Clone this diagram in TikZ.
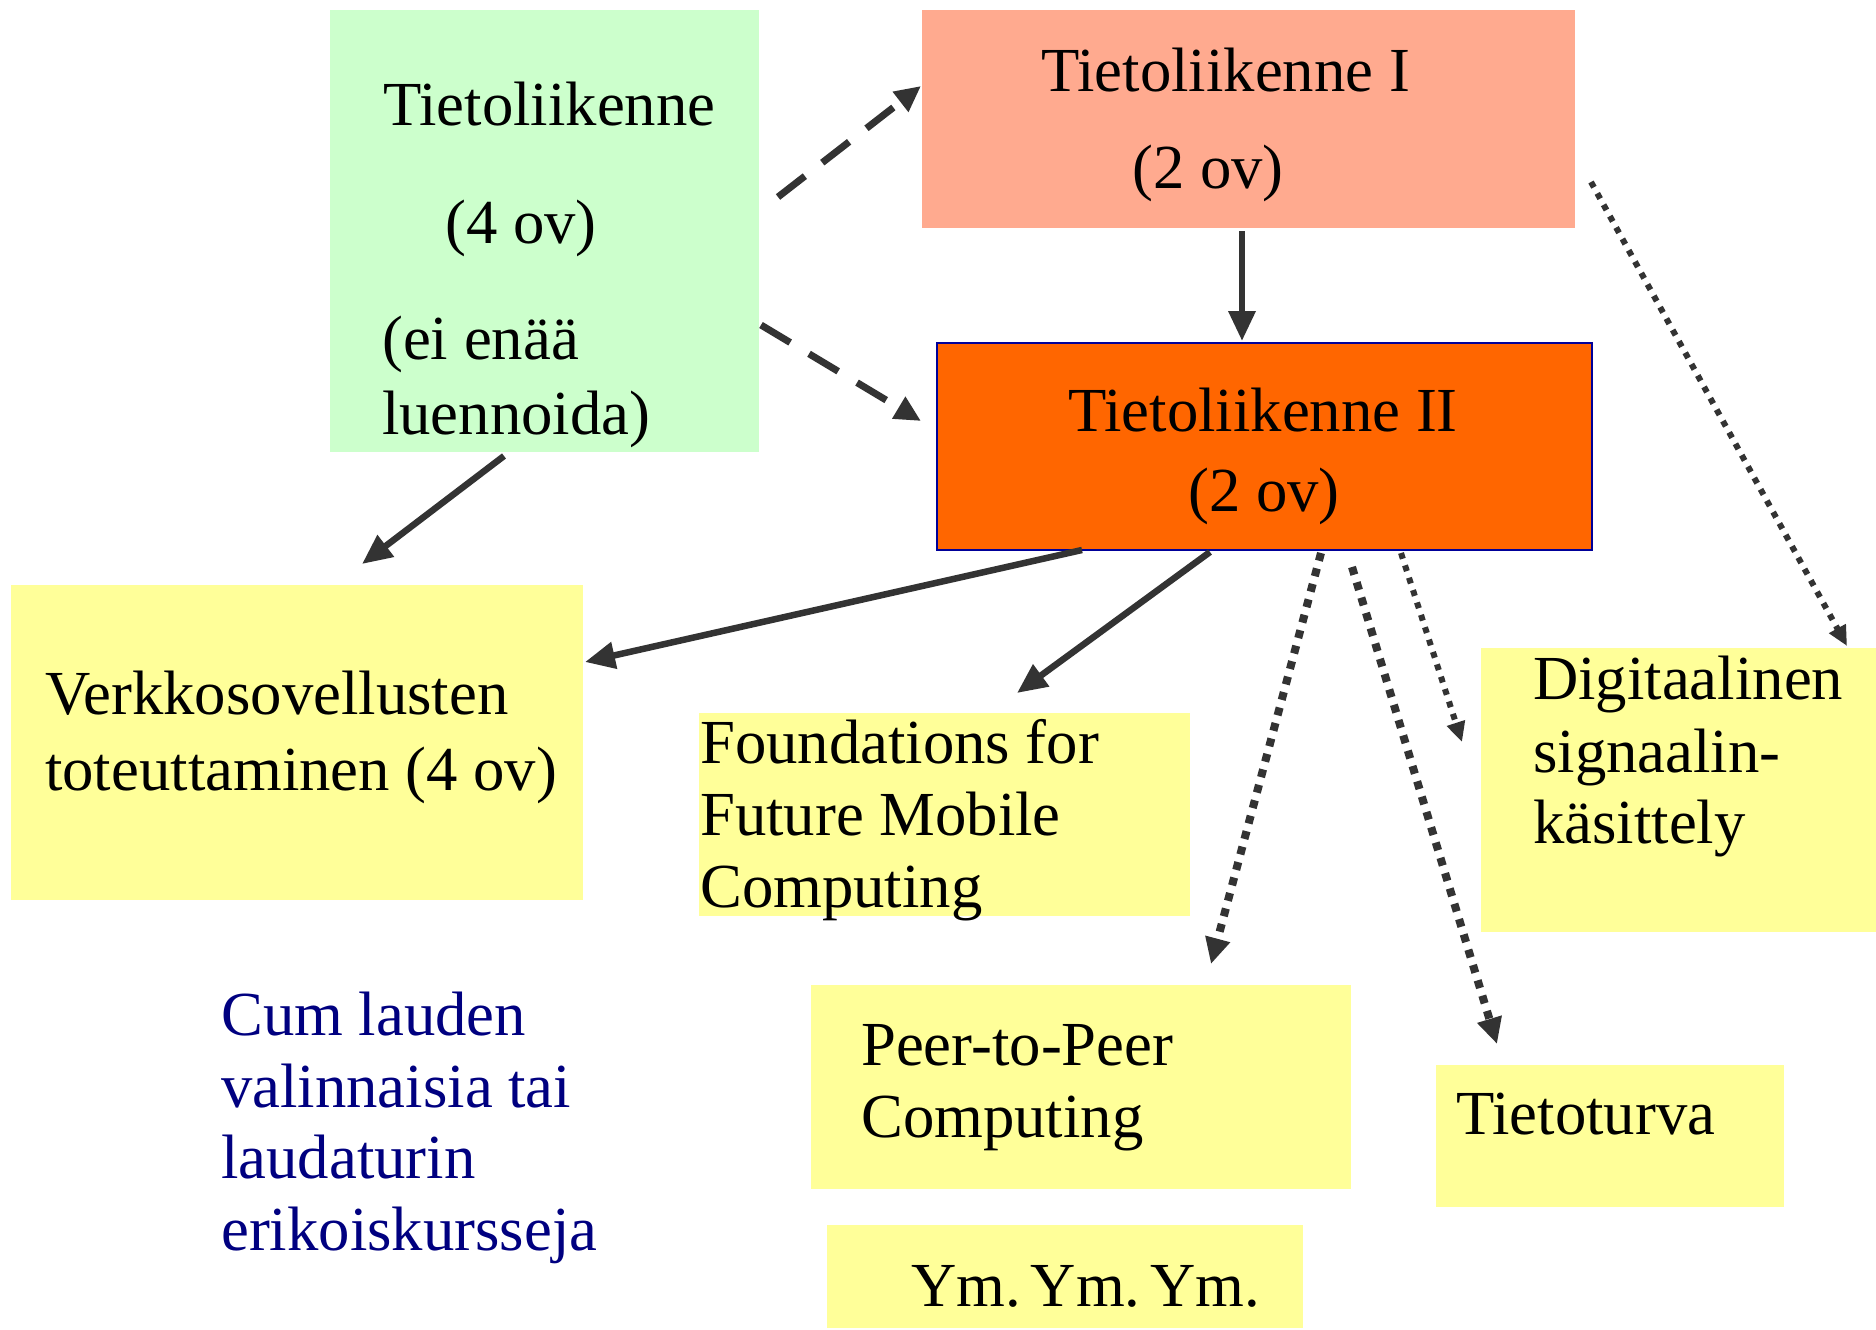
\documentclass[tikz,border=0pt]{standalone}
\usepackage{fontspec}
\setmainfont{Liberation Serif}
\usetikzlibrary{arrows.meta}
\definecolor{gbox}{HTML}{CCFFCC}
\definecolor{sbox}{HTML}{FFAA8F}
\definecolor{obox}{HTML}{FF6600}
\definecolor{ybox}{HTML}{FFFF99}
\definecolor{navyb}{HTML}{000099}
\definecolor{cumc}{HTML}{000080}
\definecolor{arr}{HTML}{333333}
\newcommand\bigfnt{\fontsize{62.7}{72}\selectfont}
\begin{document}
\begin{tikzpicture}[x=1pt,y=-1pt,
  box/.style={draw=none,anchor=north west,inner sep=0,outer sep=0},
  txt/.style={anchor=base west,inner sep=0,font=\bigfnt},
  solidarr/.style={draw=arr,line width=6.5pt,-{Triangle[length=30pt,width=26pt]}},
  dasharr/.style={draw=arr,line width=7pt,dash pattern=on 34pt off 22pt,-{Triangle[length=26pt,width=24pt]}},
  heavydot/.style={draw=arr,line width=8pt,dash pattern=on 8pt off 8pt,-{Triangle[length=26pt,width=24pt]}},
  thindot/.style={draw=arr,line width=6pt,dash pattern=on 6pt off 7pt,-{Triangle[length=20pt,width=18pt]}}]
\useasboundingbox (0,0) rectangle (1876,1330);
\fill[white] (0,0) rectangle (1876,1330);
% boxes
\node[box,fill=gbox,minimum width=429pt,minimum height=442pt] (green) at (330,10) {};
\node[box,fill=sbox,minimum width=653pt,minimum height=218pt] (salmon) at (922,10) {};
\node[box,fill=obox,draw=navyb,line width=2pt,minimum width=655pt,minimum height=207pt] (orange) at (937,343) {};
\node[box,fill=ybox,minimum width=572pt,minimum height=315pt] (verkko) at (11,585) {};
\node[box,fill=ybox,minimum width=491pt,minimum height=203pt] (found) at (699,713) {};
\node[box,fill=ybox,minimum width=395pt,minimum height=284pt] (digi) at (1481,648) {};
\node[box,fill=ybox,minimum width=540pt,minimum height=204pt] (peer) at (811,985) {};
\node[box,fill=ybox,minimum width=348pt,minimum height=142pt] (turva) at (1436,1065) {};
\node[box,fill=ybox,minimum width=476pt,minimum height=103pt] (ym) at (827,1225) {};
% texts
\node[txt] (g1) at (383,125) {Tietoliikenne};
\node[txt] (g2) at (445,243) {(4 ov)};
\node[txt] (g3) at (382,359) {(ei enää};
\node[txt] (g4) at (382,434) {luennoida)};
\node[txt] (s1) at (1041,92) {Tietoliikenne I};
\node[txt] (s2) at (1132,188) {(2 ov)};
\node[txt] (o1) at (1068,431) {Tietoliikenne II};
\node[txt] (o2) at (1188,511) {(2 ov)};
\node[txt] (v1) at (45,714) {Verkkosovellusten};
\node[txt] (v2) at (45,790) {toteuttaminen (4 ov)};
\node[txt] (f1) at (700,763) {Foundations for};
\node[txt] (f2) at (700,835) {Future Mobile};
\node[txt] (f3) at (700,907) {Computing};
\node[txt] (d1) at (1533,699) {Digitaalinen};
\node[txt] (d2) at (1533,772) {signaalin-};
\node[txt] (d3) at (1533,843) {käsittely};
\node[txt] (p1) at (861,1065) {Peer-to-Peer};
\node[txt] (p2) at (861,1137) {Computing};
\node[txt] (tt) at (1456,1134) {Tietoturva};
\node[txt] (yy) at (911,1306) {Ym.\hspace{10pt}Ym.\hspace{10pt}Ym.};
\node[txt,text=cumc] (c1) at (221,1035) {Cum lauden};
\node[txt,text=cumc] (c2) at (221,1107) {valinnaisia tai};
\node[txt,text=cumc] (c3) at (221,1178) {laudaturin};
\node[txt,text=cumc] (c4) at (221,1250) {erikoiskursseja};
% connector end points
\coordinate (a1s) at (778,197); \coordinate (a1e) at (921,86);
\coordinate (a2s) at (761,325); \coordinate (a2e) at (921,421);
\coordinate (a3s) at (1242,231); \coordinate (a3e) at (1242,341);
\coordinate (a4s) at (504,456); \coordinate (a4e) at (362,564);
\coordinate (a5s) at (1082,550); \coordinate (a5e) at (585,662);
\coordinate (a6s) at (1210,552); \coordinate (a6e) at (1017,693);
\coordinate (a7s) at (1321,553); \coordinate (a7e) at (1211,964);
\coordinate (a8s) at (1352,567); \coordinate (a8e) at (1497,1044);
\coordinate (a9s) at (1401,553); \coordinate (a9e) at (1462,742);
\coordinate (a10s) at (1591,182); \coordinate (a10e) at (1847,646);
% connectors
\draw[dasharr] (a1s) -- (a1e);
\draw[dasharr] (a2s) -- (a2e);
\draw[solidarr] (a3s) -- (a3e);
\draw[solidarr] (a4s) -- (a4e);
\draw[solidarr] (a5s) -- (a5e);
\draw[solidarr] (a6s) -- (a6e);
\draw[heavydot] (a7s) -- (a7e);
\draw[heavydot] (a8s) -- (a8e);
\draw[thindot] (a9s) -- (a9e);
\draw[thindot] (a10s) -- (a10e);
\end{tikzpicture}
\end{document}
